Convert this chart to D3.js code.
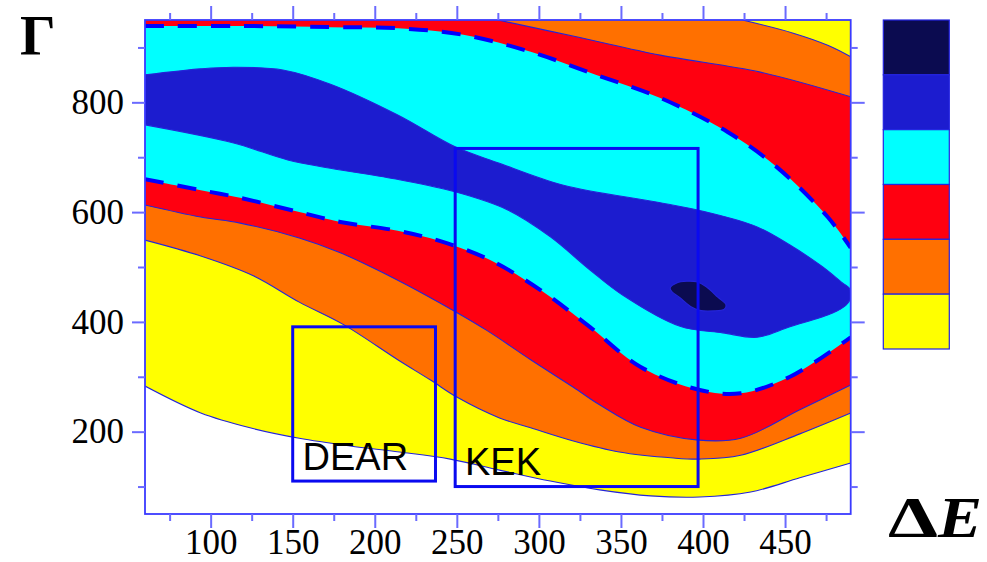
<!DOCTYPE html>
<html><head><meta charset="utf-8">
<script src="https://cdn.jsdelivr.net/npm/d3@7"></script>
<style>body{margin:0;background:#fff}svg{display:block}</style>
</head><body>
<svg id="chart" width="987" height="562"></svg>
<script>
// ---------- data ----------
const xDomain = [60, 490];
const yDomain = [50, 950];
const xMajorTicks = [100, 150, 200, 250, 300, 350, 400, 450];
const xMinorTicks = [75, 125, 175, 225, 275, 325, 375, 425, 475];
const yMajorTicks = [200, 400, 600, 800];
const yMinorTicks = [100, 300, 500, 700, 900];
// level colours, lowest to highest
const levelColors = ["#ffff00", "#ff7000", "#ff0010", "#00ffff", "#1c1ccf", "#0b0b50"];
// contour lines [ΔE, Γ]
const c1Lower = [[60,283],[94,234],[124,207],[154,188],[185,174],[215,163],[246,150],[276,130],[307,110],[337,94],[368,83],[398,81],[429,90],[459,116],[490,143]];
const c2Lower = [[60,549],[94,520],[126,484],[154,436],[181,395],[214,331],[234,294],[250,263],[276,225],[295,207],[321,183],[349,163],[382,152],[398,150],[423,157],[459,196],[490,234]];
const c2Upper = [[424,950],[455,926],[476,904],[490,883]];
const c3Lower = [[60,613],[94,591],[118,580],[154,553],[179,526],[214,476],[240,434],[268,385],[295,331],[321,281],[337,249],[362,208],[396,185],[423,188],[459,240],[490,285]];
const c3Upper = [[275,950],[325,918],[374,886],[435,855],[490,810]];
const c4Lower = [[60,660],[94,640],[118,626],[154,600],[179,582],[214,566],[240,547],[270,513],[301,458],[331,391],[362,318],[398,276],[423,270],[453,300],[490,372]];
const c4Upper = [[60,939],[124,939],[173,937],[214,935],[254,923],[295,892],[335,850],[374,808],[415,746],[445,682],[476,591],[490,535]];
const c5Lower = [[60,759],[114,726],[147,695],[173,680],[215,659],[249,637],[281,604],[307,555],[331,495],[351,449],[386,392],[412,380],[433,372],[453,391],[479,416],[487,430],[490,442]];
const c5Upper = [[60,850],[94,861],[114,864],[144,859],[173,833],[214,777],[249,719],[275,690],[315,649],[374,617],[402,600],[433,573],[453,540],[473,500],[485,471],[489,462],[490,452]];
const c6Closed = [[380,462],[384,471],[390,474],[396,473],[402,464],[409,445],[414,431],[413,423],[406,420],[398,421],[393,427],[386,444],[381,455]];
// experiment regions
const regionNames = ["DEAR", "KEK"];
const regionX = [[150, 237], [249, 397]];
const regionY = [[110, 391], [100, 716]];
const regionLabelPos = [[156, 130], [255, 121]];
const yAxisTitle = "Γ";
const xAxisTitleA = "Δ";
const xAxisTitleB = "E";

// ---------- layout ----------
const L = 145, R = 850.7, T = 20, B = 514;
const svg = d3.select("#chart");
const x = d3.scaleLinear().domain(xDomain).range([L, R]);
const y = d3.scaleLinear().domain(yDomain).range([B, T]);

svg.append("defs").append("clipPath").attr("id","clip")
  .append("rect").attr("x",L).attr("y",T).attr("width",R-L).attr("height",B-T);

const line = d3.line().x(d=>x(d[0])).y(d=>y(d[1])).curve(d3.curveCatmullRom.alpha(0.5));
const pathOf = pts => line(pts);
const cont = pts => line(pts).replace(/^M/, "L");
const px = p => "L" + x(p[0]) + "," + y(p[1]);
const rev = a => a.slice().reverse();

const g = svg.append("g").attr("clip-path","url(#clip)");
g.append("rect").attr("x",L).attr("y",T).attr("width",R-L).attr("height",B-T).attr("fill","#fff");

const yTop = yDomain[1];
const fills = [
  pathOf(c1Lower) + px([xDomain[1], yTop]) + px([xDomain[0], yTop]) + "Z",
  pathOf(c2Lower) + cont(rev(c2Upper)) + px([xDomain[0], yTop]) + "Z",
  pathOf(c3Lower) + cont(rev(c3Upper)) + px([xDomain[0], yTop]) + "Z",
  pathOf(c4Lower) + cont(rev(c4Upper)) + "Z",
  pathOf(c5Lower) + cont(rev(c5Upper)) + "Z",
  d3.line().x(d=>x(d[0])).y(d=>y(d[1])).curve(d3.curveCatmullRomClosed.alpha(0.5))(c6Closed)
];
g.selectAll("path.fill").data(fills).join("path").attr("class","fill")
  .attr("d", d=>d).attr("fill", (d,i)=>levelColors[i]).attr("stroke","none");

// contour strokes
const thin = [c1Lower, c2Lower, c2Upper, c3Lower, c3Upper, c5Lower, c5Upper];
g.selectAll("path.thin").data(thin).join("path").attr("class","thin")
  .attr("d", d=>line(d)).attr("fill","none").attr("stroke","#2424d8").attr("stroke-width",1.1);
g.append("path").attr("d", fills[5]).attr("fill","none").attr("stroke","#2424d8").attr("stroke-width",1.1);
g.selectAll("path.dash").data([c4Lower, c4Upper]).join("path").attr("class","dash")
  .attr("d", d=>line(d)).attr("fill","none").attr("stroke","#0000ff")
  .attr("stroke-width",4).attr("stroke-dasharray","19,14");

// experiment boxes
regionNames.forEach((n,i)=>{
  svg.append("rect")
    .attr("x", x(regionX[i][0])).attr("y", y(regionY[i][1]))
    .attr("width", x(regionX[i][1]) - x(regionX[i][0]))
    .attr("height", y(regionY[i][0]) - y(regionY[i][1]))
    .attr("fill","none").attr("stroke","#0a0af0").attr("stroke-width",3);
  svg.append("text").attr("x", x(regionLabelPos[i][0])).attr("y", y(regionLabelPos[i][1]))
    .attr("font-family","'Liberation Sans', Arial, sans-serif").attr("font-size",38)
    .attr("fill","#000").text(n);
});

// frame
svg.append("rect").attr("x",L).attr("y",T).attr("width",R-L).attr("height",B-T)
  .attr("fill","none").attr("stroke","#3a3aff").attr("stroke-width",1.8);

// axes
const tickColor = "#6a6aff";
function styleAxis(sel){
  sel.select(".domain").remove();
  sel.selectAll(".tick line").attr("stroke",tickColor).attr("stroke-width",2);
  sel.selectAll(".tick text").attr("font-family","'Liberation Serif', 'Times New Roman', serif")
    .attr("font-size",35).attr("fill","#000");
}
const xAxisG = svg.append("g").attr("transform",`translate(0,${B})`)
  .call(d3.axisBottom(x).tickValues(xMajorTicks).tickSize(14).tickFormat(d3.format("d")))
  .call(styleAxis);
xAxisG.selectAll(".tick text").attr("y", 40).attr("dy", null);
svg.append("g").attr("transform",`translate(0,${B})`)
  .call(d3.axisBottom(x).tickValues(xMinorTicks).tickSize(7).tickFormat("")).call(styleAxis);
svg.append("g").attr("transform",`translate(0,${T})`)
  .call(d3.axisTop(x).tickValues(xMajorTicks).tickSize(14).tickFormat("")).call(styleAxis);
svg.append("g").attr("transform",`translate(0,${T})`)
  .call(d3.axisTop(x).tickValues(xMinorTicks).tickSize(7).tickFormat("")).call(styleAxis);
svg.append("g").attr("transform",`translate(${L},0)`)
  .call(d3.axisLeft(y).tickValues(yMajorTicks).tickSize(13).tickPadding(8).tickFormat(d3.format("d")))
  .call(styleAxis);
svg.append("g").attr("transform",`translate(${L},0)`)
  .call(d3.axisLeft(y).tickValues(yMinorTicks).tickSize(7).tickFormat("")).call(styleAxis);
svg.append("g").attr("transform",`translate(${R},0)`)
  .call(d3.axisRight(y).tickValues(yMajorTicks).tickSize(14).tickFormat("")).call(styleAxis);
svg.append("g").attr("transform",`translate(${R},0)`)
  .call(d3.axisRight(y).tickValues(yMinorTicks).tickSize(7).tickFormat("")).call(styleAxis);

// axis titles
svg.append("text").attr("x",20).attr("y",55)
  .attr("font-family","'Liberation Serif', 'Times New Roman', serif").attr("font-weight","bold")
  .attr("font-size",56).attr("fill","#000").text(yAxisTitle);
svg.append("text").attr("x",888).attr("y",537)
  .attr("font-family","'Liberation Serif', 'Times New Roman', serif").attr("font-weight","bold")
  .attr("font-size",58).attr("fill","#000")
  .attr("textLength",50).attr("lengthAdjust","spacingAndGlyphs").text(xAxisTitleA);
svg.append("text").attr("x",938).attr("y",537)
  .attr("font-family","'Liberation Serif', 'Times New Roman', serif").attr("font-weight","bold")
  .attr("font-style","italic").attr("font-size",58).attr("fill","#000")
  .attr("textLength",44).attr("lengthAdjust","spacingAndGlyphs").text(xAxisTitleB);

// colour bar
const cb = d3.scaleBand().domain(d3.range(levelColors.length)).range([20, 349]);
svg.append("g").selectAll("rect").data(levelColors.slice().reverse()).join("rect")
  .attr("x",883.3).attr("width",66).attr("y",(d,i)=>cb(i)).attr("height",cb.bandwidth())
  .attr("fill",d=>d).attr("stroke","#2424e0").attr("stroke-width",1.2);
</script>
</body></html>
